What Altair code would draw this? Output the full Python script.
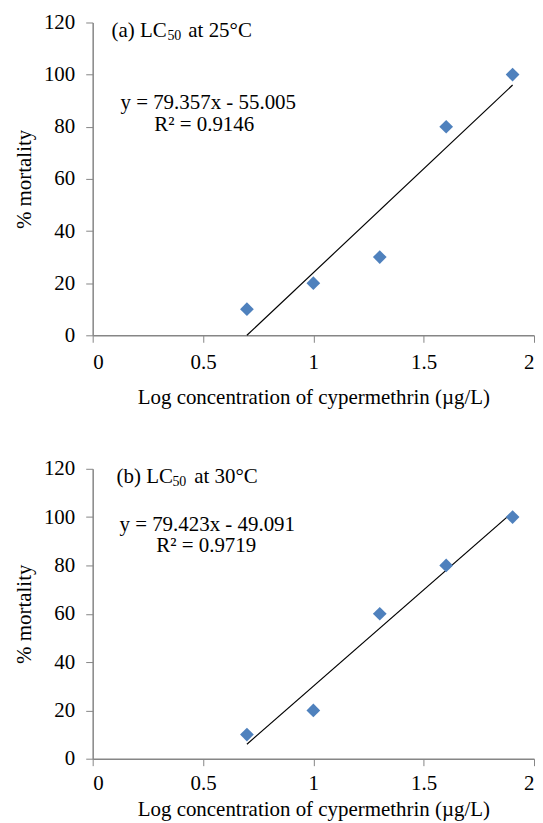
import altair as alt
import pandas as pd

# ---- data ----
log_conc = [0.699, 1.0, 1.301, 1.602, 1.903]
mort_25 = [10, 20, 30, 80, 100]
mort_30 = [10, 20, 60, 80, 100]
x_ticks = [0, 0.5, 1, 1.5, 2]
y_ticks = [0, 20, 40, 60, 80, 100, 120]

tag_a = ["(a) LC", "50", "at 25°C"]
tag_b = ["(b) LC", "50", "at 30°C"]
eq_a = ["y = 79.357x - 55.005", "R² = 0.9146"]
eq_b = ["y = 79.423x - 49.091", "R² = 0.9719"]
x_title = "Log concentration of cypermethrin (µg/L)"
y_title = "% mortality"

FONT = "Liberation Serif"
BLUE = "#4F81BD"
GRAY = "#868686"
FS = 21
AFS = 21


def txt(s, x, y, size=AFS, align="left"):
    return alt.Chart(pd.DataFrame({"t": [s]})).mark_text(
        font=FONT, fontSize=size, align=align, baseline="middle", color="black"
    ).encode(x=alt.value(x), y=alt.value(y), text="t:N")


def panel(values, tag, eq, h, tagpos, eqpos, xlp, xtp):
    df = pd.DataFrame({"x": log_conc, "y": values})
    xenc = alt.X("x:Q", scale=alt.Scale(domain=[0, 2], nice=False),
                 axis=alt.Axis(values=x_ticks, format="~g", title=x_title,
                               labelPadding=xlp, titlePadding=xtp))
    yenc = alt.Y("y:Q", scale=alt.Scale(domain=[0, 120], nice=False),
                 axis=alt.Axis(values=y_ticks, title=y_title,
                               labelPadding=11, titlePadding=9))
    base = alt.Chart(df)
    pts = base.mark_point(shape="diamond", filled=True, size=190,
                          color=BLUE, opacity=1).encode(x=xenc, y=yenc)
    line = base.transform_regression(
        "x", "y", method="linear", extent=[0.699, 1.903]
    ).mark_line(color="black", strokeWidth=1.2).encode(x="x:Q", y="y:Q")
    tx, ty, sx, ax = tagpos
    layers = [line, pts,
              txt(tag[0], tx, ty),
              txt(tag[1], sx, ty + 5, size=14),
              txt(tag[2], ax, ty)]
    (e1x, e1y), (e2x, e2y) = eqpos
    layers += [txt(eq[0], e1x, e1y, align="center"),
               txt(eq[1], e2x, e2y, align="center")]
    return alt.layer(*layers).properties(width=443, height=h)


pa = panel(mort_25, tag_a, eq_a, 314,
           (19, 9, 75, 96), ((116, 81), (112, 103)), 9, 14)
pb = panel(mort_30, tag_b, eq_b, 291,
           (24, 8, 80, 102), ((115, 56), (114, 78)), 7, 5)

chart = alt.vconcat(pa, pb, spacing=51).properties(
    padding={"left": 5, "top": 2, "right": 0, "bottom": 0}
).configure_view(stroke=None).configure_axis(
    grid=False, domainColor=GRAY, tickColor=GRAY, tickSize=7,
    labelFont=FONT, labelFontSize=FS, labelColor="black",
    titleFont=FONT, titleFontSize=FS, titleFontWeight="normal", titleColor="black",
    domainWidth=1.5
)

chart.save("out.html", embed_options={"renderer": "svg", "actions": False})
